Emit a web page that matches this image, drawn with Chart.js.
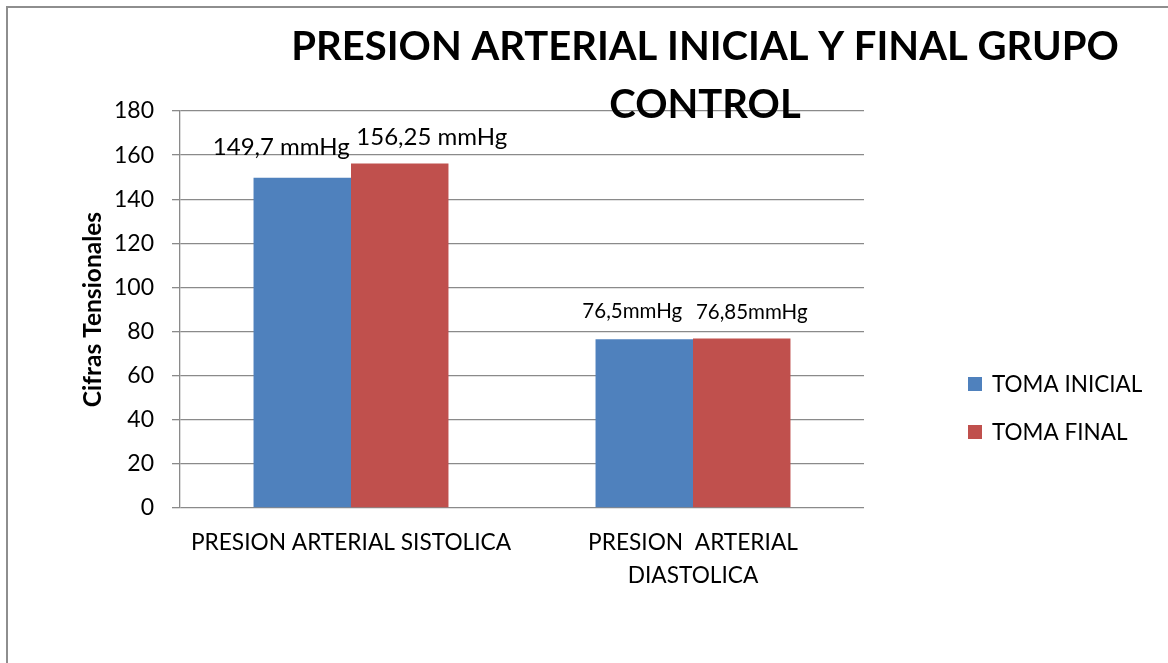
<!DOCTYPE html>
<html>
<head>
<meta charset="utf-8">
<script src="https://cdn.jsdelivr.net/npm/chart.js@4.4.1/dist/chart.umd.min.js"></script>
<style>
html,body{margin:0;padding:0;background:#fff;overflow:hidden}
#wrap{position:absolute;left:0;top:0;width:1168px;height:663px}
</style>
</head>
<body>
<div id="wrap"><canvas id="c" width="1168" height="663"></canvas></div>
<script>
// ---- data ----
const categories = ["PRESION ARTERIAL SISTOLICA", ["PRESION  ARTERIAL", "DIASTOLICA"]];
const seriesNames = ["TOMA INICIAL", "TOMA FINAL"];
const tomaInicial = [149.7, 76.5];
const tomaFinal = [156.25, 76.85];
const labelsInicial = ["149,7 mmHg", "76,5mmHg"];
const labelsFinal = ["156,25 mmHg", "76,85mmHg"];
const yTicks = [0, 20, 40, 60, 80, 100, 120, 140, 160, 180];
const titleLines = ["PRESION ARTERIAL INICIAL Y FINAL GRUPO", "CONTROL"];
const yAxisTitle = "Cifras Tensionales";

// ---- styles ----
const COLORS = ["#4F81BD", "#C0504D"];
const GRID = "#8a8a8a";
const FONT = "Lato, 'Open Sans', sans-serif";
const labelFontSize = [24, 20.5]; // per category
const labelNudge = [
  [{dx: -21, dy: -23}, {dx: -12, dy: -21}],
  [{dx: 32, dy: -18}, {dx: 10, dy: -20}]
];

const decor = {
  id: 'decor',
  beforeDraw(chart) {
    const ctx = chart.ctx;
    ctx.save();
    ctx.strokeStyle = '#8e8e8e';
    ctx.lineWidth = 2;
    ctx.beginPath();
    ctx.moveTo(7, 663); ctx.lineTo(7, 7); ctx.lineTo(1168, 7);
    ctx.stroke();
    ctx.restore();
  },
  afterDatasetsDraw(chart) {
    const ctx = chart.ctx;
    const texts = [labelsInicial, labelsFinal];
    ctx.save();
    ctx.fillStyle = '#000';
    ctx.textAlign = 'center';
    ctx.textBaseline = 'alphabetic';
    chart.data.datasets.forEach((ds, i) => {
      const meta = chart.getDatasetMeta(i);
      meta.data.forEach((el, j) => {
        const n = labelNudge[i][j];
        ctx.font = labelFontSize[j] + "px " + FONT;
        ctx.fillText(texts[i][j], el.x + n.dx, el.y + n.dy);
      });
    });
    ctx.restore();
  },
  afterDraw(chart) {
    const ctx = chart.ctx;
    ctx.save();
    // title
    ctx.fillStyle = '#000';
    ctx.font = "bold 40px " + FONT;
    ctx.textAlign = 'center';
    ctx.textBaseline = 'alphabetic';
    ctx.fillText(titleLines[0], 705, 60);
    ctx.fillText(titleLines[1], 705, 118);
    // legend
    ctx.font = "22.5px " + FONT;
    ctx.textAlign = 'left';
    chart.data.datasets.forEach((ds, i) => {
      const y = 377 + i * 48;
      ctx.fillStyle = ds.backgroundColor;
      ctx.fillRect(968, y, 14, 14);
      ctx.fillStyle = '#000';
      ctx.fillText(ds.label, 992, y + 15);
    });
    ctx.restore();
  }
};

new Chart(document.getElementById('c'), {
  type: 'bar',
  data: {
    labels: categories,
    datasets: [
      {label: seriesNames[0], data: tomaInicial, backgroundColor: COLORS[0], categoryPercentage: 0.57, barPercentage: 1},
      {label: seriesNames[1], data: tomaFinal, backgroundColor: COLORS[1], categoryPercentage: 0.57, barPercentage: 1}
    ]
  },
  options: {
    responsive: false,
    devicePixelRatio: 1,
    animation: false,
    layout: {padding: {top: 111, right: 304, left: 0, bottom: 0}},
    plugins: {legend: {display: false}, tooltip: {enabled: false}, title: {display: false}},
    scales: {
      x: {
        grid: {display: false, drawTicks: false},
        border: {display: false},
        ticks: {color: '#000', font: {family: FONT, size: 22.7, lineHeight: 1.45}, padding: 18, maxRotation: 0, autoSkip: false},
        afterFit(s) { s.height = 155; }
      },
      y: {
        min: 0, max: 180,
        afterBuildTicks(s) { s.ticks = yTicks.map(v => ({value: v})); },
        grid: {color: GRID, lineWidth: 1.3, drawTicks: true, tickLength: 8},
        border: {display: true, color: GRID, width: 1.3},
        ticks: {color: '#000', font: {family: FONT, size: 23}, padding: 18},
        title: {display: true, text: yAxisTitle, color: '#000', font: {family: FONT, size: 24.5, weight: 'bold'}, padding: {top: 78, bottom: 0}},
        afterFit(s) { s.width = 180; }
      }
    }
  },
  plugins: [decor]
});
</script>
</body>
</html>
